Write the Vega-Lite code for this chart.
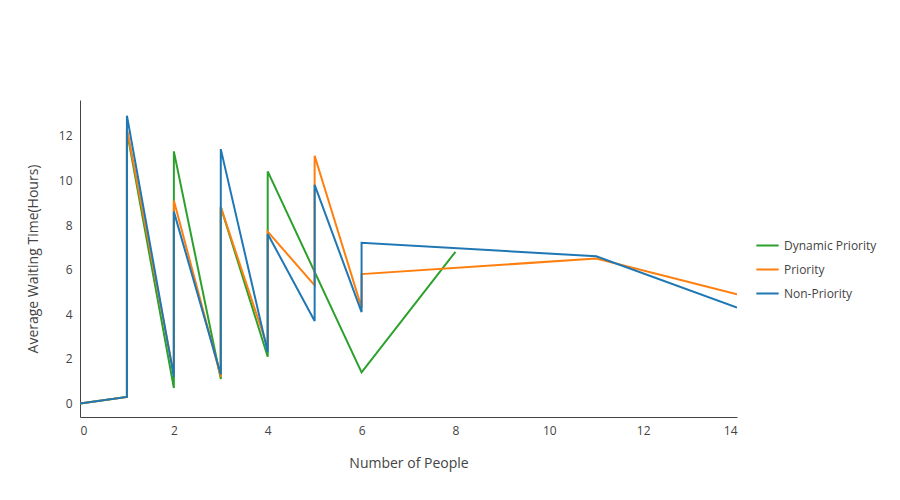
{
  "$schema": "https://vega.github.io/schema/vega-lite/v6.json",
  "width": 657,
  "height": 317,
  "autosize": "none",
  "padding": {"left": 80, "top": 100, "right": 163, "bottom": 83},
  "background": "white",
  "config": {
    "view": {"stroke": null},
    "font": "Open Sans",
    "axis": {"labelColor": "#444", "titleColor": "#444", "labelFontSize": 12, "titleFontSize": 14, "titleFontWeight": "normal", "domainColor": "#444", "tickColor": "#444", "grid": false}
  },
  "data": {
    "values": [
      {"s": "Dynamic Priority", "i": 0, "x": 0, "y": 0},
      {"s": "Dynamic Priority", "i": 1, "x": 1, "y": 0.3},
      {"s": "Dynamic Priority", "i": 2, "x": 1, "y": 12.2},
      {"s": "Dynamic Priority", "i": 3, "x": 2, "y": 0.7},
      {"s": "Dynamic Priority", "i": 4, "x": 2, "y": 11.3},
      {"s": "Dynamic Priority", "i": 5, "x": 3, "y": 1.1},
      {"s": "Dynamic Priority", "i": 6, "x": 3, "y": 8.8},
      {"s": "Dynamic Priority", "i": 7, "x": 4, "y": 2.1},
      {"s": "Dynamic Priority", "i": 8, "x": 4, "y": 10.4},
      {"s": "Dynamic Priority", "i": 9, "x": 6, "y": 1.4},
      {"s": "Dynamic Priority", "i": 10, "x": 8, "y": 6.8},
      {"s": "Priority", "i": 0, "x": 0, "y": 0},
      {"s": "Priority", "i": 1, "x": 1, "y": 0.3},
      {"s": "Priority", "i": 2, "x": 1, "y": 12.3},
      {"s": "Priority", "i": 3, "x": 2, "y": 1.3},
      {"s": "Priority", "i": 4, "x": 2, "y": 9.1},
      {"s": "Priority", "i": 5, "x": 3, "y": 1.2},
      {"s": "Priority", "i": 6, "x": 3, "y": 8.8},
      {"s": "Priority", "i": 7, "x": 4, "y": 2.5},
      {"s": "Priority", "i": 8, "x": 4, "y": 7.7},
      {"s": "Priority", "i": 9, "x": 5, "y": 5.3},
      {"s": "Priority", "i": 10, "x": 5, "y": 11.1},
      {"s": "Priority", "i": 11, "x": 6, "y": 4.3},
      {"s": "Priority", "i": 12, "x": 6, "y": 5.8},
      {"s": "Priority", "i": 13, "x": 11, "y": 6.5},
      {"s": "Priority", "i": 14, "x": 14, "y": 4.9},
      {"s": "Non-Priority", "i": 0, "x": 0, "y": 0},
      {"s": "Non-Priority", "i": 1, "x": 1, "y": 0.3},
      {"s": "Non-Priority", "i": 2, "x": 1, "y": 12.9},
      {"s": "Non-Priority", "i": 3, "x": 2, "y": 1.2},
      {"s": "Non-Priority", "i": 4, "x": 2, "y": 8.6},
      {"s": "Non-Priority", "i": 5, "x": 3, "y": 1.3},
      {"s": "Non-Priority", "i": 6, "x": 3, "y": 11.4},
      {"s": "Non-Priority", "i": 7, "x": 4, "y": 2.3},
      {"s": "Non-Priority", "i": 8, "x": 4, "y": 7.6},
      {"s": "Non-Priority", "i": 9, "x": 5, "y": 3.7},
      {"s": "Non-Priority", "i": 10, "x": 5, "y": 9.8},
      {"s": "Non-Priority", "i": 11, "x": 6, "y": 4.1},
      {"s": "Non-Priority", "i": 12, "x": 6, "y": 7.2},
      {"s": "Non-Priority", "i": 13, "x": 11, "y": 6.6},
      {"s": "Non-Priority", "i": 14, "x": 14, "y": 4.3}
    ]
  },
  "mark": {"type": "line", "strokeWidth": 2, "clip": true},
  "encoding": {
    "x": {"field": "x", "type": "quantitative", "title": "Number of People",
      "scale": {"domain": [0, 14], "nice": false, "zero": false},
      "axis": {"values": [0, 2, 4, 6, 8, 10, 12, 14], "offset": 0, "titlePadding": 20, "ticks": false, "labelPadding": 8}},
    "y": {"field": "y", "type": "quantitative", "title": "Average Waiting Time(Hours)",
      "scale": {"domain": [-0.6, 13.6], "nice": false, "zero": false},
      "axis": {"values": [0, 2, 4, 6, 8, 10, 12], "ticks": false, "labelPadding": 8, "titlePadding": 18}},
    "order": {"field": "i", "type": "quantitative"},
    "color": {"field": "s", "type": "nominal", "title": null,
      "scale": {"domain": ["Dynamic Priority", "Priority", "Non-Priority"], "range": ["#2ca02c", "#ff7f0e", "#1f77b4"]},
      "legend": {"orient": "none", "legendX": 675, "legendY": 133, "symbolType": "stroke", "symbolStrokeWidth": 2, "symbolSize": 500, "labelFontSize": 12, "labelColor": "#444", "rowPadding": 5}}
  }
}
